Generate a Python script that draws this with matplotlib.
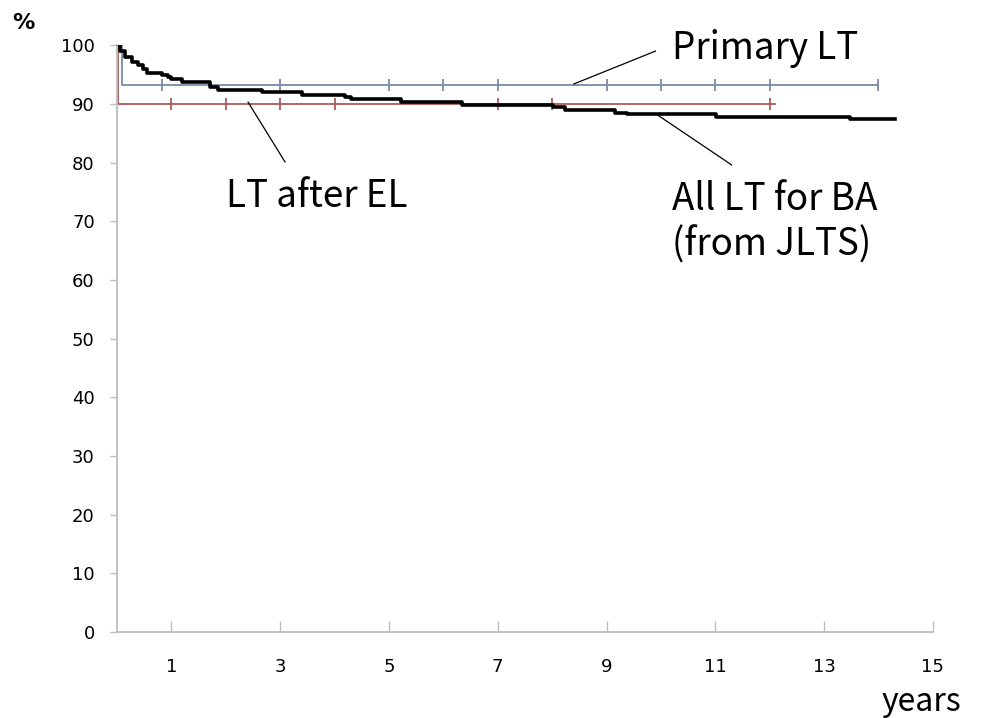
"""
Survival after liver transplantation for biliary atresia (KM-style curves)
"""

import matplotlib
matplotlib.use('Agg')
import matplotlib.pyplot as plt

# All LT for BA (from JLTS) - step curve
all_lt_years = [0, 0.05, 0.15, 0.27, 0.39, 0.48, 0.55, 0.82, 0.94, 1.0, 1.2, 1.71,
                1.86, 2.66, 3.4, 4.19, 4.31, 5.23, 6.34, 8.02, 8.24, 9.15, 9.37,
                11.02, 13.47, 14.3]
all_lt_surv = [100, 99.1, 98.0, 97.2, 96.6, 96.0, 95.3, 94.9, 94.5, 94.2, 93.8, 92.9,
               92.3, 92.0, 91.6, 91.2, 90.8, 90.4, 89.8, 89.5, 88.9, 88.5, 88.2,
               87.8, 87.35, 87.35]

# Primary LT
primary_years = [0, 0.1, 14.0]
primary_surv = [100, 93.3, 93.3]
primary_censor = [0.83, 3, 5, 6, 7, 9, 10, 11, 12, 14]

# LT after EL
el_years = [0, 0.02, 12.1]
el_surv = [100, 90.0, 90.0]
el_censor = [1, 2, 3, 4, 7, 8, 12]

x_ticks = [1, 3, 5, 7, 9, 11, 13, 15]
y_ticks = [0, 10, 20, 30, 40, 50, 60, 70, 80, 90, 100]

blue = '#7a8aa6'
red = '#a85a58'
grey = '#bdbdbd'
label_font = ['Noto Sans CJK JP', 'DejaVu Sans']

fig = plt.figure(figsize=(9.83, 7.18), dpi=100)
ax = fig.add_axes([0.119, 0.12, 0.83, 0.817])

# curves
ax.step(primary_years, primary_surv, where='post', color=blue, linewidth=1.3)
ax.plot(primary_censor, [primary_surv[-1]] * len(primary_censor), linestyle='none',
        marker='|', markersize=9, markeredgewidth=1.3, color=blue)

ax.step(el_years, el_surv, where='post', color=red, linewidth=1.3)
ax.plot(el_censor, [el_surv[-1]] * len(el_censor), linestyle='none',
        marker='|', markersize=9, markeredgewidth=1.3, color=red)

ax.step(all_lt_years, all_lt_surv, where='post', color='black', linewidth=2.6)

ax.set_xlim(0, 15)
ax.set_ylim(0, 100)

# axes styling
for side in ['top', 'right']:
    ax.spines[side].set_visible(False)
for side in ['left', 'bottom']:
    ax.spines[side].set_color(grey)
    ax.spines[side].set_linewidth(1.3)

ax.set_xticks(x_ticks)
ax.set_yticks(y_ticks)
ax.tick_params(axis='x', direction='in', length=8, width=1, color=grey,
               labelsize=13, pad=19)
ax.tick_params(axis='y', direction='out', length=5, width=1, color=grey,
               labelsize=13, pad=11)

# annotations
ax.plot([8.4, 9.9], [93.4, 99.0], color='black', linewidth=0.9)
ax.text(10.2, 99.5, 'Primary LT', fontsize=26.5, family=label_font, va='center')

ax.plot([2.41, 3.09], [90.3, 80.1], color='black', linewidth=0.9)
ax.text(2.0, 74.2, 'LT after EL', fontsize=26.5, family=label_font, va='center')

ax.plot([9.94, 11.3], [88.1, 79.6], color='black', linewidth=0.9)
ax.text(10.2, 77.0, 'All LT for BA\n(from JLTS)', fontsize=26.5, family=label_font,
        va='top', linespacing=1.2)

fig.text(0.012, 0.968, '%', fontsize=16, fontweight='bold', va='center')
fig.text(0.937, 0.022, 'years', fontsize=23, family=label_font, ha='center', va='center')

fig.savefig('out.png', dpi=100)
